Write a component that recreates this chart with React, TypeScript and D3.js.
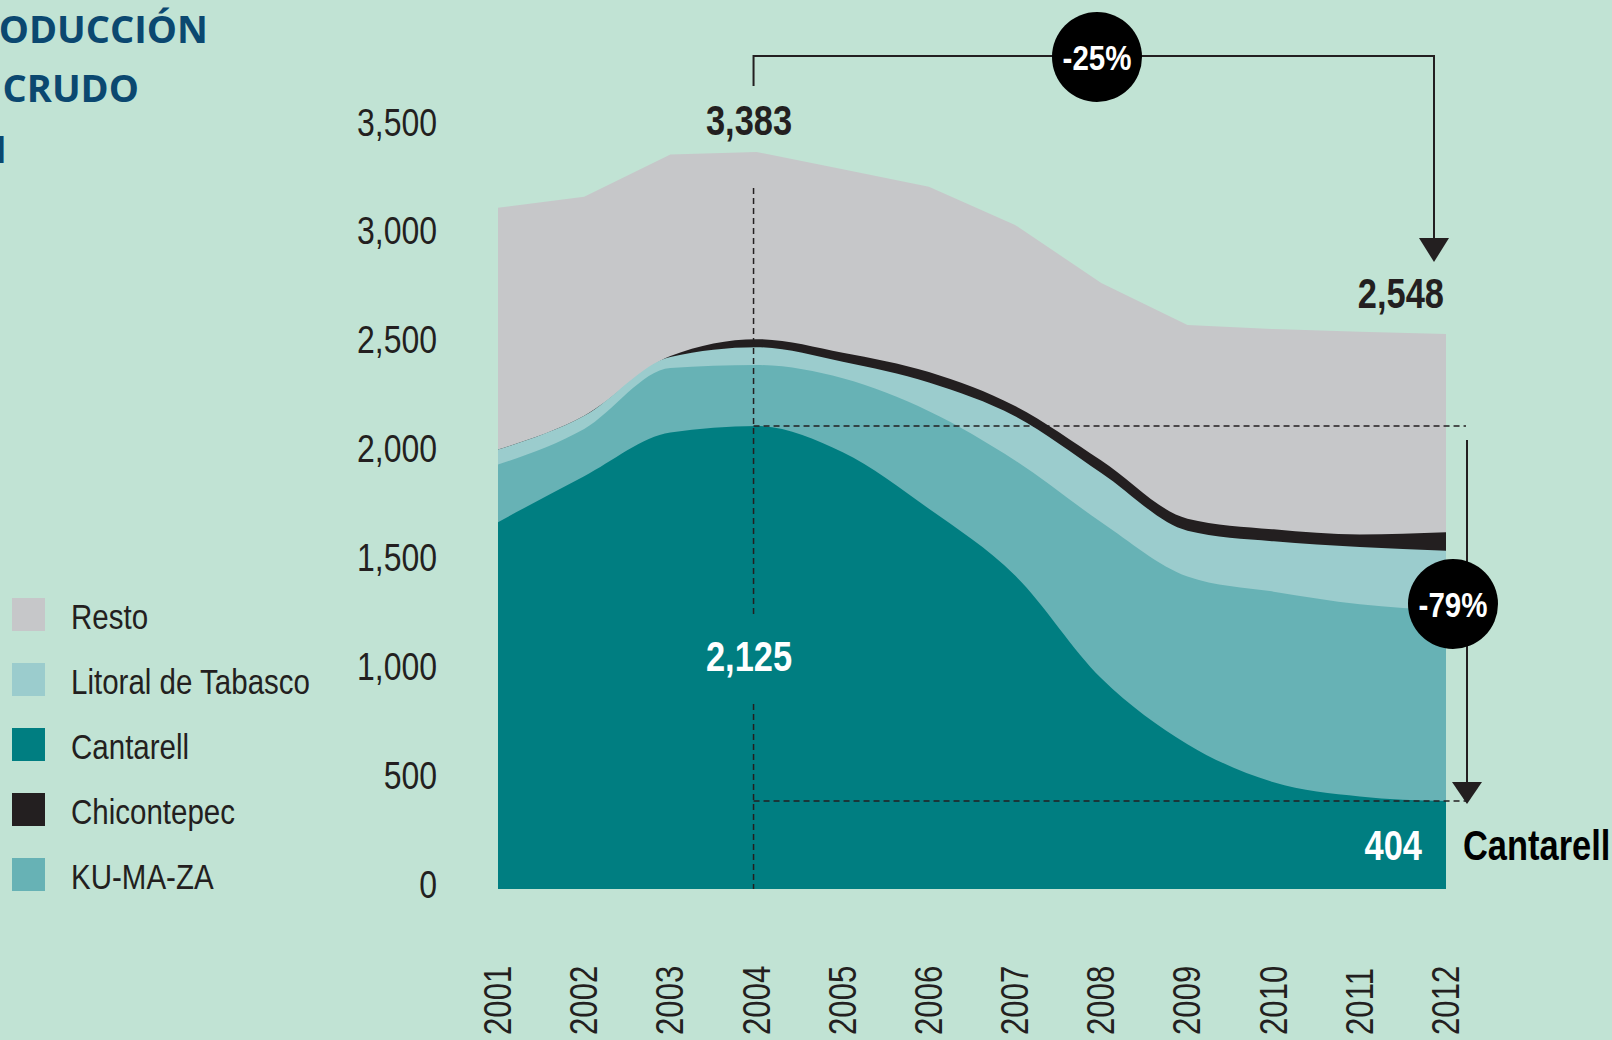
import React, { useEffect } from 'react';
import * as d3 from 'd3';

// production in thousand barrels per day
const years = [2001, 2002, 2003, 2004, 2005, 2006, 2007, 2008, 2009, 2010, 2011, 2012];
const cantarell = [1684, 1895, 2095, 2125, 2005, 1745, 1439, 967, 665, 490, 425, 404];
const kuMaZa = [264, 217, 296, 280, 339, 448, 528, 717, 770, 875, 882, 874];
const litoral = [69, 60, 51, 82, 76, 132, 203, 226, 210, 231, 263, 275];
const chicontepec = [0, 0, 4, 37, 42, 48, 47, 57, 55, 55, 57, 84];
const resto = [1110, 1005, 925, 859, 842, 851, 831, 815, 889, 919, 931, 911];

const yTicks = [0, 500, 1000, 1500, 2000, 2500, 3000, 3500];
const titleLines = ['PRODUCCIÓN', 'DE CRUDO', 'POR REGIÓN'];

const keys = ['Cantarell', 'KU-MA-ZA', 'Litoral de Tabasco', 'Chicontepec', 'Resto'];
const colors = {
  Cantarell: '#007e81',
  'KU-MA-ZA': '#67b2b5',
  'Litoral de Tabasco': '#9bcccd',
  Chicontepec: '#231f20',
  Resto: '#c6c7c9',
};
const legendOrder = ['Resto', 'Litoral de Tabasco', 'Cantarell', 'Chicontepec', 'KU-MA-ZA'];

const W = 1612, H = 1040;
const sans = '"Liberation Sans", Arial, sans-serif';
const ink = '#231f20';
const SX = 0.82; // squeeze Liberation Sans into a narrow face

// narrow text: position first, then squeeze horizontally
function NText({ x, y, rotate = 0, children, ...rest }) {
  return (
    <text transform={`translate(${x},${y}) rotate(${rotate}) scale(${SX},1)`} {...rest}>
      {children}
    </text>
  );
}

export default function App() {
  useEffect(() => {
    document.body.style.margin = '0';
    document.body.style.overflow = 'hidden';
  }, []);

  const rows = years.map((yr, i) => ({
    year: yr,
    Cantarell: cantarell[i],
    'KU-MA-ZA': kuMaZa[i],
    'Litoral de Tabasco': litoral[i],
    Chicontepec: chicontepec[i],
    Resto: resto[i],
  }));
  const stacked = d3.stack().keys(keys)(rows);

  const x = d3.scaleLinear().domain([2001, 2012]).range([498, 1446]);
  const y = d3.scaleLinear().domain([0, 3500]).range([889, 126.5]);

  // each layer is filled from the baseline to its cumulative top, painted top layer first
  const areaFor = (key) =>
    d3.area()
      .x((d) => x(d.data.year))
      .y0(y(0))
      .y1((d) => y(d[1]))
      .curve(key === 'Resto' ? d3.curveLinear : d3.curveMonotoneX);

  const fmt = d3.format(',');
  const total = (i) => stacked[stacked.length - 1][i][1];
  const x04 = x(2004) - 3;
  const i04 = years.indexOf(2004);
  const i12 = years.indexOf(2012);

  return (
    <svg width={W} height={H} style={{ position: 'absolute', left: 0, top: 0 }}>
      <rect width={W} height={H} fill="#c1e3d4" />

      {/* title, cut off on the left as in the source */}
      <g fill="#0b4870" fontFamily='"Open Sans", sans-serif' fontWeight="bold" fontSize={38} textAnchor="end">
        <text x={208} y={43}>{titleLines[0]}</text>
        <text x={139} y={102}>{titleLines[1]}</text>
        <text x={7} y={163}>{titleLines[2]}</text>
      </g>

      {/* stacked areas */}
      {stacked.slice().reverse().map((layer) => (
        <path key={layer.key} d={areaFor(layer.key)(layer)} fill={colors[layer.key]} />
      ))}

      {/* y axis labels */}
      <g fontFamily={sans} fontSize={39} fill={ink} textAnchor="end">
        {yTicks.map((t) => (
          <NText key={t} x={437} y={y(t) + 9}>{fmt(t)}</NText>
        ))}
      </g>

      {/* x axis labels */}
      <g fontFamily={sans} fontSize={38} fill={ink}>
        {years.map((yr) => (
          <NText key={yr} x={x(yr) + 13} y={1035} rotate={-90}>{yr}</NText>
        ))}
      </g>

      {/* dashed guides */}
      <g stroke={ink} strokeWidth={1.5} strokeDasharray="6 4" fill="none">
        <line x1={x04} x2={x04} y1={188} y2={617} />
        <line x1={x04} x2={x04} y1={704} y2={y(0)} />
        <line x1={x04} x2={1466} y1={y(cantarell[i04])} y2={y(cantarell[i04])} />
        <line x1={x04} x2={1466} y1={y(cantarell[i12])} y2={y(cantarell[i12])} />
      </g>

      {/* -25% bracket */}
      <polyline points={`${x04},86 ${x04},56 1434,56 1434,242`} fill="none" stroke={ink} strokeWidth={2} />
      <path d="M1419,238 L1449,238 L1434,262 Z" fill={ink} />
      <circle cx={1097} cy={57} r={45} fill="#000" />
      <NText x={1097} y={70} textAnchor="middle" fill="#fff" fontFamily={sans} fontWeight="bold" fontSize={36}>-25%</NText>

      {/* -79% arrow */}
      <line x1={1467} x2={1467} y1={440} y2={785} stroke={ink} strokeWidth={2} />
      <path d={`M1452,782 L1482,782 L1467,${y(cantarell[i12]) + 3} Z`} fill={ink} />
      <circle cx={1453} cy={604} r={45} fill="#000" />
      <NText x={1453} y={617} textAnchor="middle" fill="#fff" fontFamily={sans} fontWeight="bold" fontSize={36}>-79%</NText>

      {/* value labels */}
      <g fontFamily={sans} fontWeight="bold" fontSize={42}>
        <NText x={749} y={135} textAnchor="middle" fill={ink}>{fmt(total(i04))}</NText>
        <NText x={1444} y={308} textAnchor="end" fill={ink}>{fmt(total(i12))}</NText>
        <NText x={749} y={671} textAnchor="middle" fill="#fff">{fmt(cantarell[i04])}</NText>
        <NText x={1422} y={860} textAnchor="end" fill="#fff">{fmt(cantarell[i12])}</NText>
        <NText x={1463} y={860} fill="#000">Cantarell</NText>
      </g>

      {/* legend */}
      <g fontFamily={sans} fontSize={36} fill={ink}>
        {legendOrder.map((k, i) => (
          <g key={k} transform={`translate(12,${598 + i * 65})`}>
            <rect width={33} height={33} fill={colors[k]} />
            <NText x={59} y={31}>{k}</NText>
          </g>
        ))}
      </g>
    </svg>
  );
}
